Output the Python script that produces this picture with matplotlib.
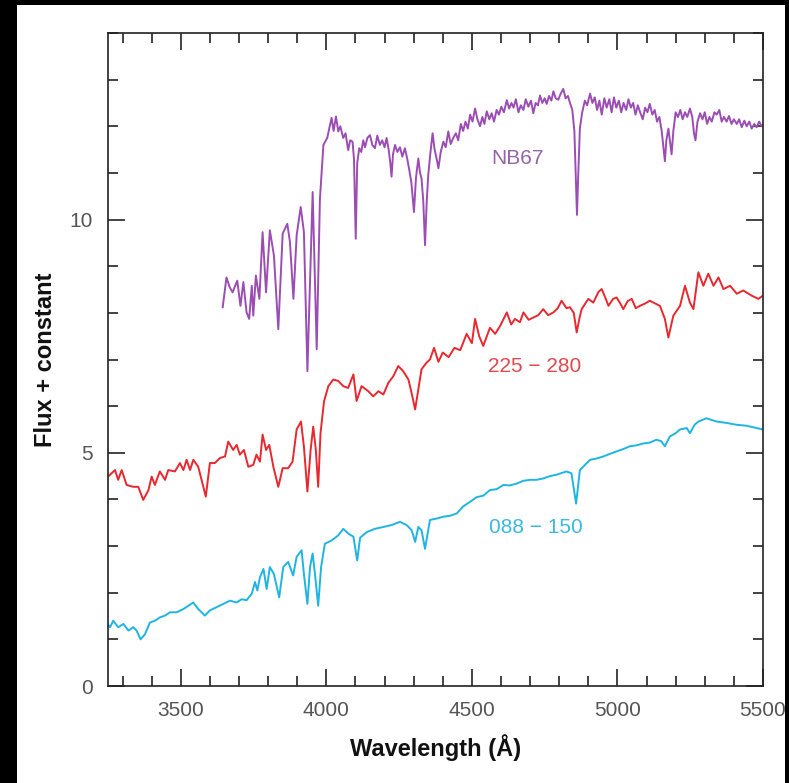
import numpy as np
import matplotlib
matplotlib.use("Agg")
import matplotlib.pyplot as plt
from matplotlib.patches import Rectangle
from matplotlib.ticker import MultipleLocator, FixedLocator

plt.rcParams['font.family'] = ['Liberation Sans', 'DejaVu Sans']

# ---------------- data ----------------
nb67_wave = [3644, 3657, 3668, 3678, 3694, 3705, 3715, 3726, 3735, 3744, 3749, 3758, 3770,
             3781, 3793, 3806, 3820, 3835, 3850, 3866, 3875, 3887, 3898, 3912, 3923, 3935,
             3953, 3967, 3978,
             3990, 4003, 4010, 4018, 4025, 4033, 4041, 4048, 4058, 4066, 4075, 4082, 4090,
             4095, 4101, 4106, 4113, 4120, 4127, 4133, 4141, 4150, 4158, 4167, 4175, 4184,
             4192, 4200, 4207, 4214, 4220, 4224, 4229, 4236, 4244, 4253, 4261, 4270, 4278,
             4285, 4292, 4301, 4308, 4316, 4322, 4327, 4333, 4339, 4345, 4350, 4357, 4365,
             4372, 4379, 4385, 4393,
             4402, 4410, 4419, 4427, 4436, 4445, 4453, 4462, 4470, 4478, 4486, 4494, 4502,
             4511, 4519, 4528, 4536, 4543, 4551, 4560, 4568, 4576, 4585, 4593, 4601, 4610,
             4620, 4628, 4636, 4643, 4651, 4660, 4668, 4677, 4685, 4694, 4703, 4711, 4719,
             4727, 4734, 4742, 4750, 4757, 4765, 4773, 4780, 4788, 4797, 4805, 4814, 4822,
             4830, 4837, 4845, 4852, 4857, 4861, 4865, 4871, 4879, 4888, 4896, 4906, 4914,
             4922, 4930, 4938, 4946, 4955, 4963, 4972, 4980, 4988, 4996, 5005, 5013, 5021,
             5030, 5038, 5046, 5054, 5062, 5070, 5078, 5087, 5095, 5103, 5111, 5120, 5128,
             5136, 5144, 5152, 5158, 5163, 5168, 5175, 5180, 5186, 5192, 5200, 5208, 5216,
             5224, 5232, 5240, 5249, 5257, 5263, 5268, 5275, 5284, 5292, 5300, 5308, 5316,
             5324, 5333, 5341, 5350, 5358, 5366, 5375, 5383, 5392, 5400, 5410, 5418, 5427,
             5436, 5444, 5453, 5461, 5470, 5478, 5487, 5495, 5500]
nb67_flux = [8.12, 8.76, 8.55, 8.44, 8.69, 8.15, 8.66, 8.01, 7.87, 8.58, 7.94, 8.80, 8.30,
             9.73, 8.44, 9.77, 9.23, 7.65, 9.70, 9.91, 9.52, 8.30, 9.66, 10.27, 9.73, 6.75,
             10.59, 7.22, 10.45,
             11.60, 11.75, 11.95, 12.18, 11.90, 12.21, 11.89, 12.00, 11.75, 11.85, 11.49, 11.70, 11.67,
             11.30, 9.59, 11.20, 11.53, 11.45, 11.70, 11.55, 11.75, 11.81, 11.60, 11.53, 11.80, 11.60,
             11.70, 11.55, 11.75, 11.50, 11.20, 10.92, 11.40, 11.60, 11.45, 11.55, 11.35, 11.53, 11.30,
             11.06, 10.80, 10.16, 10.90, 11.31, 11.00, 10.88, 10.40, 9.45, 10.40, 10.95, 11.40, 11.85,
             11.50, 11.30, 11.10, 11.45,
             11.67, 11.55, 11.89, 11.62, 11.75, 11.85, 11.70, 12.05, 11.90, 12.10, 11.95, 12.25, 12.10,
             12.38, 12.15, 12.00, 12.20, 12.05, 12.32, 12.15, 12.28, 12.10, 12.35, 12.25, 12.42, 12.30,
             12.56, 12.38, 12.50, 12.40, 12.58, 12.30, 12.45, 12.35, 12.58, 12.42, 12.55, 12.28, 12.50,
             12.45, 12.66, 12.50, 12.60, 12.48, 12.65, 12.55, 12.75, 12.60, 12.57, 12.70, 12.80, 12.60,
             12.65, 12.50, 12.35, 11.90, 10.90, 10.10, 10.90, 11.96, 12.30, 12.55, 12.45, 12.70, 12.50,
             12.62, 12.35, 12.55, 12.25, 12.60, 12.40, 12.58, 12.30, 12.62, 12.40, 12.55, 12.30, 12.50,
             12.35, 12.58, 12.40, 12.50, 12.25, 12.45, 12.30, 12.15, 12.40, 12.30, 12.48, 12.25, 12.35,
             12.10, 12.20, 11.90, 11.55, 11.25, 11.70, 11.95, 11.70, 11.40, 11.90, 12.30, 12.20, 12.35,
             12.15, 12.30, 12.20, 12.38, 12.20, 11.85, 11.70, 12.10, 12.28, 12.15, 12.30, 12.05, 12.20,
             12.10, 12.30, 12.25, 12.35, 12.10, 12.20, 12.10, 12.22, 12.05, 12.15, 12.05, 12.15, 11.98,
             12.12, 12.00, 12.10, 11.95, 12.05, 11.98, 12.10, 12.00, 12.02]

red_wave = [3252, 3257, 3274, 3285, 3297, 3314, 3337, 3354, 3371, 3389, 3400, 3411, 3428,
            3446, 3457, 3480, 3497, 3509, 3520, 3532, 3543, 3560, 3586, 3600, 3617, 3635,
            3652, 3663, 3680, 3692, 3703, 3717, 3732, 3749, 3760, 3772, 3781, 3793, 3804,
            3818, 3835, 3850, 3869, 3884, 3898, 3913, 3923, 3935, 3946, 3955, 3964, 3972,
            3980, 3992, 4007, 4024, 4041, 4058, 4075, 4093, 4104, 4121, 4144, 4161, 4179,
            4196, 4213, 4230, 4247, 4264, 4282, 4293, 4305, 4316, 4327, 4344, 4356, 4370,
            4385, 4400, 4420, 4440, 4460, 4482, 4500, 4511, 4525, 4539, 4562, 4580, 4597,
            4620, 4635, 4648, 4665, 4677, 4695, 4711, 4728, 4745, 4762, 4780, 4795, 4808,
            4825, 4837, 4850, 4860, 4870, 4877, 4900, 4917, 4935, 4946, 4960, 4969, 4985,
            4997, 5010, 5020, 5035, 5049, 5063, 5077, 5095, 5111, 5130, 5146, 5163, 5175,
            5192, 5215, 5232, 5249, 5261, 5278, 5295, 5312, 5330, 5347, 5364, 5387, 5410,
            5432, 5461, 5484, 5500]
red_flux = [4.50, 4.53, 4.63, 4.42, 4.63, 4.31, 4.27, 4.27, 3.99, 4.20, 4.49, 4.31, 4.60,
            4.42, 4.63, 4.60, 4.78, 4.63, 4.85, 4.63, 4.85, 4.70, 4.06, 4.78, 4.78, 4.89,
            4.92, 5.24, 5.06, 5.17, 4.96, 5.06, 4.70, 4.74, 4.96, 4.81, 5.39, 5.06, 5.17,
            4.70, 4.27, 4.67, 4.67, 4.81, 5.50, 5.67, 5.13, 4.17, 5.06, 5.56, 5.06, 4.27,
            5.42, 6.10, 6.43, 6.57, 6.54, 6.43, 6.39, 6.68, 6.11, 6.43, 6.32, 6.21, 6.32,
            6.25, 6.50, 6.64, 6.86, 6.75, 6.57, 6.28, 5.93, 6.36, 6.79, 6.93, 7.00, 7.25,
            6.95, 7.15, 7.05, 7.25, 7.20, 7.55, 7.35, 7.87, 7.50, 7.29, 7.68, 7.55, 7.72,
            8.01, 7.75, 7.87, 7.80, 8.01, 7.85, 7.90, 7.95, 8.08, 7.95, 8.01, 8.10, 8.26,
            8.10, 8.12, 8.00, 7.58, 7.90, 8.08, 8.30, 8.22, 8.45, 8.51, 8.30, 8.15, 8.30,
            8.33, 8.20, 8.08, 8.25, 8.30, 8.10, 8.15, 8.20, 8.26, 8.20, 8.15, 7.87, 7.47,
            7.94, 8.15, 8.58, 8.22, 8.08, 8.87, 8.58, 8.84, 8.58, 8.76, 8.51, 8.58, 8.41,
            8.48, 8.37, 8.30, 8.37]

cyan_wave = [3252, 3257, 3268, 3285, 3303, 3320, 3337, 3348, 3362, 3377, 3394, 3411, 3428,
             3446, 3463, 3486, 3509, 3526, 3543, 3560, 3583, 3600, 3623, 3646, 3669, 3692,
             3709, 3726, 3744, 3755, 3763, 3772, 3784, 3795, 3806, 3820, 3838, 3852, 3869,
             3886, 3898, 3915, 3923, 3935, 3944, 3953, 3961, 3972, 3982, 3995, 4018, 4041,
             4058, 4075, 4093, 4106, 4116, 4139, 4167, 4196, 4224, 4253, 4276, 4293, 4305,
             4316, 4327, 4339, 4356, 4379, 4402, 4425, 4448, 4470, 4494, 4517, 4539, 4562,
             4585, 4608, 4630, 4654, 4677, 4700, 4722, 4745, 4768, 4791, 4825, 4842, 4858,
             4871, 4890, 4906, 4930, 4951, 4975, 4997, 5020, 5043, 5066, 5089, 5112, 5134,
             5150, 5163, 5180, 5200, 5215, 5238, 5249, 5265, 5278, 5306, 5325, 5341, 5375,
             5410, 5444, 5478, 5500]
cyan_flux = [1.30, 1.26, 1.40, 1.26, 1.33, 1.19, 1.26, 1.19, 1.00, 1.11, 1.36, 1.40, 1.47,
             1.51, 1.58, 1.58, 1.65, 1.72, 1.79, 1.65, 1.51, 1.62, 1.69, 1.76, 1.83, 1.79,
             1.86, 1.84, 1.98, 2.23, 2.05, 2.33, 2.51, 2.08, 2.55, 2.40, 1.90, 2.55, 2.66,
             2.37, 2.77, 2.91, 2.40, 1.76, 2.55, 2.84, 2.40, 1.72, 2.55, 3.05, 3.12, 3.23,
             3.37, 3.27, 3.20, 2.69, 3.18, 3.30, 3.37, 3.41, 3.45, 3.52, 3.45, 3.34, 3.09,
             3.41, 3.34, 2.94, 3.56, 3.59, 3.63, 3.65, 3.70, 3.85, 3.95, 4.05, 4.08, 4.20,
             4.22, 4.31, 4.30, 4.34, 4.40, 4.42, 4.42, 4.45, 4.50, 4.53, 4.60, 4.56, 3.91,
             4.63, 4.75, 4.85, 4.88, 4.92, 4.98, 5.03, 5.08, 5.14, 5.16, 5.20, 5.22, 5.28,
             5.25, 5.14, 5.35, 5.42, 5.50, 5.53, 5.42, 5.60, 5.67, 5.74, 5.70, 5.67, 5.64,
             5.60, 5.58, 5.53, 5.50]

labels = ["NB67", "225 \u2212 280", "088 \u2212 150"]
label_x = [4658, 4717, 4720]
label_y = [11.31, 6.85, 3.40]

x_major = [3500, 4000, 4500, 5000, 5500]
y_major = [0, 5, 10]

# ---------------- figure ----------------
W, H = 789, 783
fig = plt.figure(figsize=(W / 100, H / 100), dpi=100, facecolor='black')
fig.add_artist(Rectangle((17 / W, 0), (785 - 17) / W, 1 - 5 / H,
                         transform=fig.transFigure, facecolor='white',
                         edgecolor='none', zorder=-10))

ax = fig.add_axes([108 / W, 1 - 686 / H, (763 - 108) / W, (686 - 33) / H])
ax.set_facecolor('white')

line_cols = ['#9c4db4', '#e8282e', '#1fb4e2']
text_cols = ['#9463a8', '#e0494d', '#3ab9e2']

ax.plot(nb67_wave, nb67_flux, color=line_cols[0], lw=1.4)
ax.plot(red_wave, red_flux, color=line_cols[1], lw=1.4)
ax.plot(cyan_wave, cyan_flux, color=line_cols[2], lw=1.4)

for t, x, y, c in zip(labels, label_x, label_y, text_cols):
    ax.text(x, y, t, color=c, fontsize=15, ha='center', va='center')

ax.set_xlim(3250, 5500)
ax.set_ylim(0, 14)
ax.xaxis.set_major_locator(FixedLocator(x_major))
ax.xaxis.set_minor_locator(MultipleLocator(100))
ax.yaxis.set_major_locator(FixedLocator(y_major))
ax.yaxis.set_minor_locator(MultipleLocator(1))

for s in ax.spines.values():
    s.set_linewidth(1.2)
    s.set_color('#222222')

ax.tick_params(which='both', direction='in', top=True, right=True,
               colors='#222222', labelcolor='#555555', labelsize=15, width=1.2)
ax.tick_params(which='major', length=12, pad=11)
ax.tick_params(which='minor', length=7)

ax.set_xlabel('Wavelength (\u00c5)', fontsize=17, fontweight='bold',
              color='#111111', labelpad=10)
ax.set_ylabel('Flux + constant', fontsize=17, fontweight='bold',
              color='#111111', labelpad=9)

# black strip at the right edge (cuts the last tick label as in the source)
fig.add_artist(Rectangle((785 / W, 0), 1 - 785 / W, 1, transform=fig.transFigure,
                         facecolor='black', edgecolor='none', zorder=20))

fig.savefig('out.png', dpi=100, facecolor='black')
